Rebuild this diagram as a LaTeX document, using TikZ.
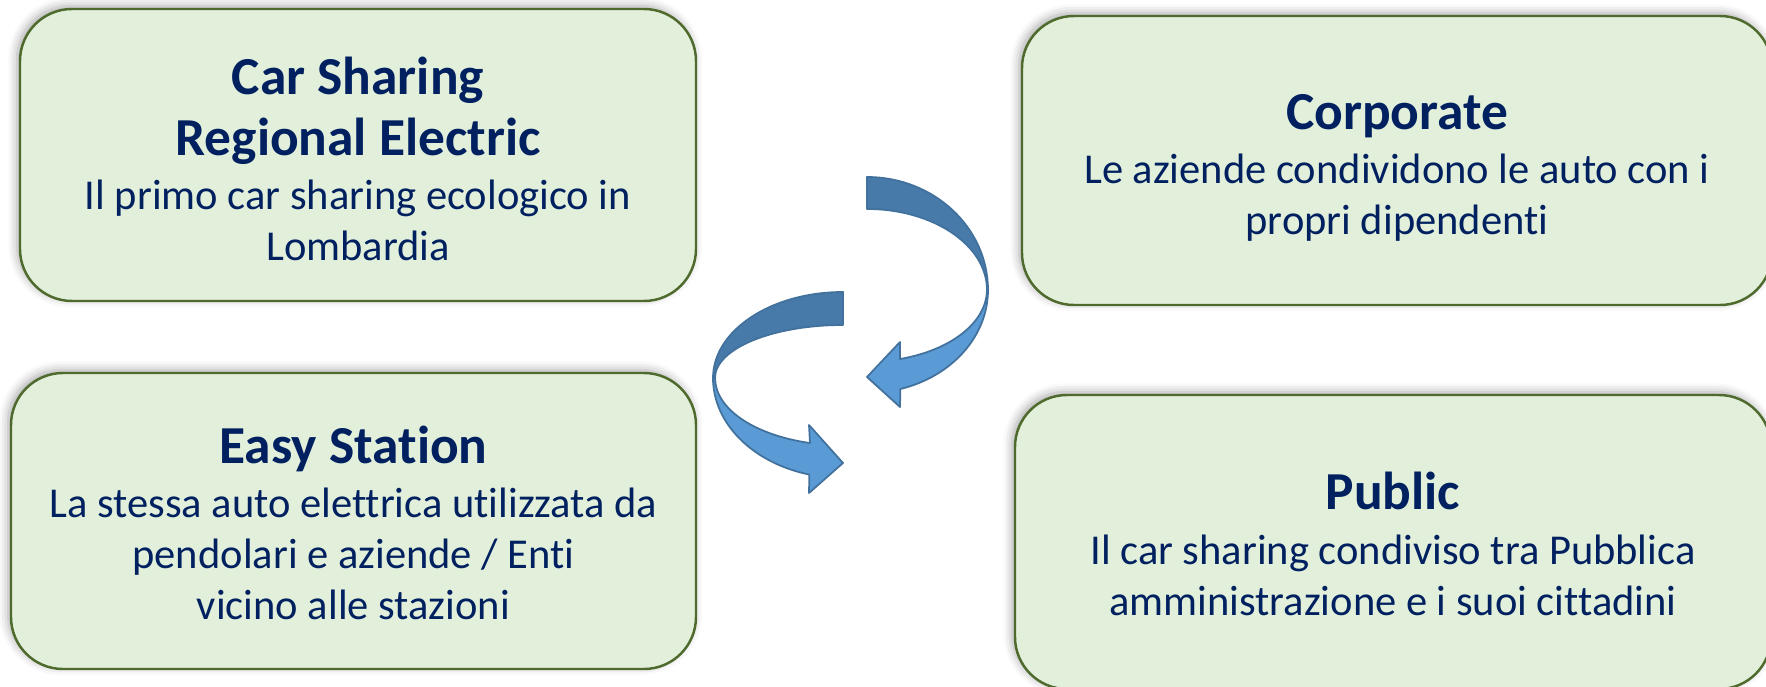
\documentclass[tikz,border=0pt]{standalone}
\usepackage{fontspec}
\setmainfont{Carlito}[Ligatures=NoCommon]
\usepackage{xcolor}
\usetikzlibrary{shapes, positioning, shadows.blur}

\definecolor{cardfill}{HTML}{E2EFDA}
\definecolor{cardline}{HTML}{4E6A2C}
\definecolor{navy}{HTML}{002060}
\definecolor{ribbondark}{HTML}{477AA8}
\definecolor{ribbonlight}{HTML}{5B9BD5}
\definecolor{ribbonline}{HTML}{41719C}

\newcommand{\ttlfont}{\fontsize{15.2}{17.4}\selectfont\bfseries}
\newcommand{\txtfont}{\fontsize{12.1}{14.5}\selectfont}

\begin{document}
\begin{tikzpicture}[
        card/.style={rectangle, rounded corners=0.52cm, draw=cardline, line width=0.7pt, fill=cardfill,
            blur shadow={shadow xshift=-0.8pt, shadow yshift=0.8pt, shadow blur radius=2.5pt, shadow opacity=35}},
        cardtext/.style={text=navy, align=flush center, font=\txtfont, inner sep=0pt},
        ribbon back/.style={fill=ribbondark, draw=ribbonline, line width=0.5pt, line join=round},
        ribbon front/.style={fill=ribbonlight, draw=ribbonline, line width=0.5pt, line join=round}]
        \useasboundingbox (0, 0) rectangle (17.66, -6.87);

        \node[card, minimum width=6.76cm, minimum height=2.92cm] (regional) at (3.58, -1.55) {};
        \node[card, minimum width=7.50cm, minimum height=2.89cm] (corporate) at (13.97, -1.605) {};
        \node[card, minimum width=6.85cm, minimum height=2.96cm] (easy) at (3.535, -5.21) {};
        \node[card, minimum width=7.56cm, minimum height=2.94cm] (public) at (13.93, -5.42) {};

        \node[cardtext, text width=6.4cm] (regional text) at (3.58, -1.59)
            {{\ttlfont Car Sharing\\ Regional Electric\par}\vspace{1pt}Il primo car sharing ecologico in\\ Lombardia};
        \node[cardtext, text width=7.1cm] (corporate text) at (13.97, -1.68)
            {{\ttlfont Corporate\par}\vspace{1pt}Le aziende condividono le auto con i\\ propri dipendenti};
        \node[cardtext, text width=6.5cm] (easy text) at (3.535, -5.23)
            {{\ttlfont Easy Station\par}\vspace{1pt}La stessa auto elettrica utilizzata da\\ pendolari e aziende / Enti\\ vicino alle stazioni};
        \node[cardtext, text width=7.2cm] (public text) at (13.93, -5.44)
            {{\ttlfont Public\par}\vspace{1pt}Il car sharing condiviso tra Pubblica\\ amministrazione e i suoi cittadini};

        \draw[ribbon front] (9.88, -2.90) arc[start angle=0, end angle=-74, x radius=1.21, y radius=1.03]
            -- (9.00, -4.07) -- (8.67, -3.77) -- (9.00, -3.42) -- (9.00, -3.59)
            arc[start angle=-74, end angle=0, x radius=1.20, y radius=0.72] -- cycle;
        \draw[ribbon back] (8.67, -1.77) arc[start angle=90, end angle=0, x radius=1.21, y radius=1.13]
            -- (9.87, -2.90) arc[start angle=0, end angle=90, x radius=1.20, y radius=0.81] -- cycle;

        \draw[ribbon front] (7.13, -3.78) arc[start angle=180, end angle=255, x radius=1.30, y radius=1.00]
            -- (8.09, -4.93) -- (8.43, -4.63) -- (8.09, -4.25) -- (8.10, -4.43)
            arc[start angle=255, end angle=180, x radius=1.28, y radius=0.67] -- cycle;
        \draw[ribbon back] (8.43, -2.92) arc[start angle=90, end angle=180, x radius=1.30, y radius=0.86]
            -- (7.15, -3.78) arc[start angle=180, end angle=90, x radius=1.28, y radius=0.53] -- cycle;
    \end{tikzpicture}
\end{document}
